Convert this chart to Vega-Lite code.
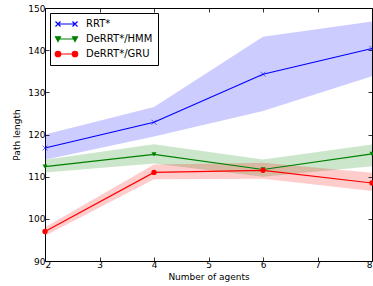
{
  "$schema": "https://vega.github.io/schema/vega-lite/v6.json",
  "width": 327,
  "height": 253,
  "autosize": "none",
  "padding": {"left": 45, "top": 8, "right": 1, "bottom": 25},
  "background": "white",
  "data": {
    "values": [
      {"method": "RRT*", "agents": 2, "mean": 116.8, "lo": 114.0, "hi": 120.0},
      {"method": "RRT*", "agents": 4, "mean": 122.9, "lo": 119.5, "hi": 126.5},
      {"method": "RRT*", "agents": 6, "mean": 134.3, "lo": 125.6, "hi": 143.2},
      {"method": "RRT*", "agents": 8, "mean": 140.4, "lo": 133.8, "hi": 146.8},
      {"method": "DeRRT*/HMM", "agents": 2, "mean": 112.4, "lo": 111.0, "hi": 114.0},
      {"method": "DeRRT*/HMM", "agents": 4, "mean": 115.3, "lo": 113.1, "hi": 117.7},
      {"method": "DeRRT*/HMM", "agents": 6, "mean": 111.7, "lo": 110.0, "hi": 114.1},
      {"method": "DeRRT*/HMM", "agents": 8, "mean": 115.4, "lo": 112.5, "hi": 117.6},
      {"method": "DeRRT*/GRU", "agents": 2, "mean": 97.0, "lo": 96.0, "hi": 98.0},
      {"method": "DeRRT*/GRU", "agents": 4, "mean": 111.0, "lo": 109.4, "hi": 112.9},
      {"method": "DeRRT*/GRU", "agents": 6, "mean": 111.5, "lo": 109.5, "hi": 113.3},
      {"method": "DeRRT*/GRU", "agents": 8, "mean": 108.5, "lo": 106.6, "hi": 110.9}
    ]
  },
  "layer": [
    {
      "mark": {"type": "area", "opacity": 0.2},
      "encoding": {
        "x": {"field": "agents", "type": "quantitative", "scale": {"domain": [2, 8], "nice": false},
              "axis": {"orient": "bottom", "title": "Number of agents", "values": [2,3,4,5,6,7,8], "labelPadding": 3, "titlePadding": 3}},
        "y": {"field": "lo", "type": "quantitative", "scale": {"domain": [90, 150], "nice": false},
              "axis": {"orient": "left", "title": "Path length", "values": [90,100,110,120,130,140,150], "labelPadding": 4, "titlePadding": 6}},
        "y2": {"field": "hi"},
        "color": {"field": "method", "type": "nominal",
                  "scale": {"domain": ["RRT*", "DeRRT*/HMM", "DeRRT*/GRU"], "range": ["#0000ff", "#008000", "#ff0000"]}}
      }
    },
    {
      "mark": {"type": "line", "strokeWidth": 1.2},
      "encoding": {
        "x": {"field": "agents", "type": "quantitative",
              "axis": {"orient": "top", "title": null, "labels": false, "values": [2,3,4,5,6,7,8]}},
        "y": {"field": "mean", "type": "quantitative",
              "axis": {"orient": "right", "title": null, "labels": false, "values": [90,100,110,120,130,140,150]}},
        "color": {"field": "method", "type": "nominal",
                  "legend": {
                    "orient": "none", "legendX": 5, "legendY": 5,
                    "title": null, "padding": 5, "strokeColor": "black", "fillColor": "white",
                    "labelFont": "DejaVu Sans", "labelFontSize": 10, "labelColor": "black",
                    "symbolSize": 100, "rowPadding": 4, "labelOffset": 19,
                    "encode": {
                      "symbols": {
                        "update": {
                          "shape": {"signal": "datum.value === 'RRT*' ? 'M-0.6,0L2.8,0M-1.1,-0.5L-0.1,0.5M-1.1,0.5L-0.1,-0.5M2.3,-0.5L3.3,0.5M2.3,0.5L3.3,-0.5' : datum.value === 'DeRRT*/HMM' ? 'M-0.6,0L2.8,0M-1.1,-0.45L-0.1,-0.45L-0.6,0.5ZM2.3,-0.45L3.3,-0.45L2.8,0.5Z' : 'M-0.6,0L2.8,0M-1.15,0A0.55,0.55 0 1,0 -0.05,0A0.55,0.55 0 1,0 -1.15,0ZM2.25,0A0.55,0.55 0 1,0 3.35,0A0.55,0.55 0 1,0 2.25,0Z'"},
                          "stroke": {"scale": "color", "field": "value"},
                          "fill": {"scale": "color", "field": "value"},
                          "strokeWidth": {"value": 1.2},
                          "opacity": {"value": 1}
                        }
                      }
                    }
                  }}
      }
    },
    {
      "transform": [{"filter": "datum.method === 'RRT*'"}],
      "mark": {"type": "point", "shape": "M-1,-1L1,1M-1,1L1,-1", "filled": false, "size": 25, "strokeWidth": 0.8, "opacity": 0.7, "color": "#0000ff"},
      "encoding": {
        "x": {"field": "agents", "type": "quantitative", "axis": null},
        "y": {"field": "mean", "type": "quantitative", "axis": null}
      }
    },
    {
      "transform": [{"filter": "datum.method === 'DeRRT*/HMM'"}],
      "mark": {"type": "point", "shape": "triangle-down", "filled": true, "size": 25, "opacity": 1, "color": "#008000"},
      "encoding": {
        "x": {"field": "agents", "type": "quantitative", "axis": null},
        "y": {"field": "mean", "type": "quantitative", "axis": null}
      }
    },
    {
      "transform": [{"filter": "datum.method === 'DeRRT*/GRU'"}],
      "mark": {"type": "point", "shape": "circle", "filled": true, "size": 28, "opacity": 1, "color": "#ff0000"},
      "encoding": {
        "x": {"field": "agents", "type": "quantitative", "axis": null},
        "y": {"field": "mean", "type": "quantitative", "axis": null}
      }
    }
  ],
  "resolve": {"axis": {"x": "independent", "y": "independent"}},
  "config": {
    "view": {"stroke": "black", "strokeWidth": 1},
    "axis": {
      "grid": false, "domain": false, "tickColor": "black", "tickSize": -4, "tickWidth": 0.8,
      "labelFont": "DejaVu Sans", "labelFontSize": 9, "labelColor": "black",
      "titleFont": "DejaVu Sans", "titleFontSize": 9, "titleFontWeight": "normal", "titleColor": "black"
    }
  }
}
